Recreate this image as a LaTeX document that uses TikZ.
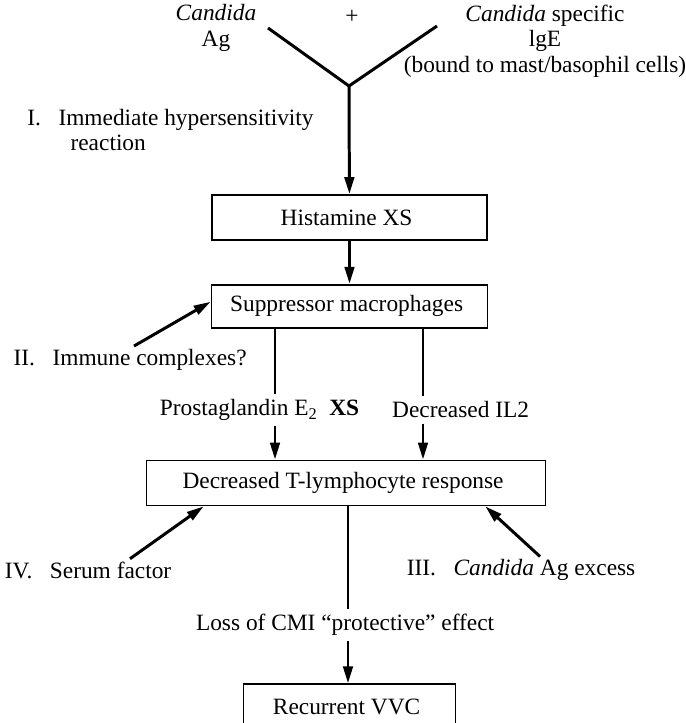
\documentclass[tikz,border=0pt]{standalone}
\usepackage{fontspec}
\setmainfont{Liberation Serif}
\usetikzlibrary{
  positioning,
  calc,
  arrows.meta}
\tikzset{
  flow_arrow/.style={-{Triangle[length=0.34cm, width=0.19cm]}, line width=1.7pt},
  flow_line/.style={line width=1.7pt, line join=miter}
}
\tikzset{
  %% stagebox : one stage of the sequence
  stagebox/.style={
    rectangle,
    draw=black,
    line width=1pt,
    minimum height=0.9cm,
    align=center
  },
  %% cause : a numbered cause, no frame
  cause/.style={
    inner sep=0pt,
    align=left
  },
  %% mediator : label that interrupts a connection
  mediator/.style={
    inner sep=0.1cm,
    align=center
  }
}

\begin{document}
\begin{tikzpicture}
  [x=1cm,
  y=-1cm,
  align=center,
  node distance=0.86cm]
  \fontsize{13.3pt}{14.5pt}\selectfont

  \useasboundingbox (0, 0) rectangle (13.7, 14.46);

  %% Antigen meets antibody
  \node (antigen) at (4.32, 0.56) {%
    \textit{Candida}\\Ag
  };
  \node (plus) at (7.04, 0.34) {+};
  \node (ige) at (10.9, 0.82) {%
    \textit{Candida} specific\\lgE\\(bound to mast/basophil cells)
  };
  \coordinate (armL) at (5.36, 0.56);
  \coordinate (armR) at (8.74, 0.52);
  \coordinate (meet) at (6.98, 1.72);

  \node (immediate) [cause, anchor=west] at (0.54, 2.6) {%
    I.\enspace\ Immediate hypersensitivity\\\hspace*{1.85em}reaction
  };

  %% Main sequence
  \node (histamine) [stagebox, minimum width=5.5cm] at (6.99, 4.35) {%
    Histamine XS
  };

  \node (suppressor) [below=0.86cm of histamine, stagebox,
    minimum width=5.52cm, minimum height=0.86cm] {%
    Suppressor macrophages
  };

  \node (tresponse) [below=2.62cm of suppressor, xshift=-0.07cm, stagebox,
    minimum width=7.98cm] {%
    Decreased T-lymphocyte response
  };

  \node (recurrent) [below=3.54cm of tresponse, xshift=0.07cm, stagebox,
    minimum width=4.24cm] {%
    Recurrent VVC
  };

  %% Mediators
  \node (prostaglandin) [mediator] at (5.25, 8.2) {%
    Prostaglandin E\textsubscript{2}\enspace\textbf{XS}
  };
  \node (iltwo) [mediator] at (9.27, 8.2) {%
    Decreased IL2
  };
  \node (cmiloss) [mediator] at (6.96, 12.5) {%
    Loss of CMI ``protective'' effect
  };

  %% Further causes
  \node (immune) [cause] at (2.68, 7.2) {%
    II.\enspace\ Immune complexes?
  };
  \node (serum) [cause] at (1.82, 11.4) {%
    IV.\enspace\ Serum factor
  };
  \node (agexcess) [cause] at (10.48, 11.4) {%
    III.\enspace\ \textit{Candida} Ag excess
  };

  %% Connections
  \draw [flow_line] (armL) -- (meet) -- (armR);
  \draw [flow_arrow] (meet) -- (histamine);
  \draw [flow_arrow] (histamine) -- (suppressor);

  \coordinate (dropL) at ([xshift=-1.49cm]suppressor.south);
  \coordinate (dropR) at ([xshift=1.47cm]suppressor.south);
  \draw [flow_line] (dropL) -- (dropL |- prostaglandin.north);
  \draw [flow_arrow] (dropL |- prostaglandin.south) -- (dropL |- tresponse.north);
  \draw [flow_line] (dropR) -- (dropR |- iltwo.north);
  \draw [flow_arrow] (dropR |- iltwo.south) -- (dropR |- tresponse.north);

  \draw [flow_line] (tresponse.south -| cmiloss) -- (cmiloss.north);
  \draw [flow_arrow] (cmiloss.south) -- (cmiloss.south |- recurrent.north);

  \draw [flow_arrow] ([yshift=0.06cm]immune.north) -- ([yshift=0.09cm]suppressor.west);
  \draw [flow_arrow] ([xshift=0.78cm, yshift=0.05cm]serum.north)
    -- ([xshift=1.16cm]tresponse.south west);
  \draw [flow_arrow] ([xshift=0.32cm, yshift=0.05cm]agexcess.north)
    -- ([xshift=-1.22cm]tresponse.south east);

\end{tikzpicture}
\end{document}
